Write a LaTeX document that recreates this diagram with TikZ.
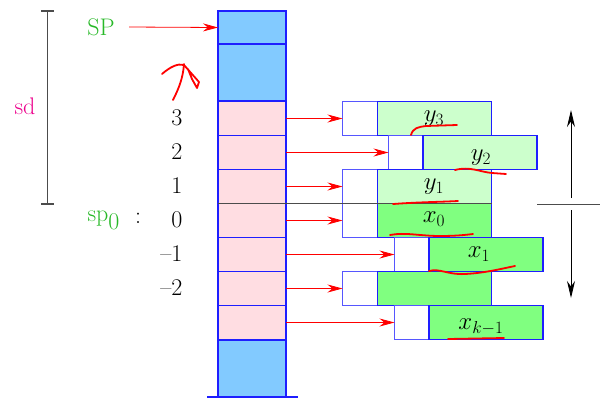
\documentclass[tikz,border=0pt]{standalone}
\usetikzlibrary{arrows.meta}
\definecolor{stackblue}{RGB}{130,202,255}
\definecolor{cellpink}{RGB}{255,221,226}
\definecolor{palegreen}{RGB}{204,255,204}
\definecolor{brightgreen}{RGB}{128,255,128}
\definecolor{labelgreen}{RGB}{40,185,40}
\definecolor{edgeblue}{RGB}{30,30,255}
\begin{document}
\begin{tikzpicture}[x=1pt,y=-1pt,every node/.style={font=\fontsize{24}{28}\selectfont},
  cell/.style={draw=edgeblue,line width=1.4pt,fill=cellpink,minimum width=68pt,minimum height=34pt,inner sep=0pt,outer sep=0pt},
  free/.style={cell,fill=stackblue},
  hole/.style={draw=edgeblue!75,line width=1.4pt,fill=white,minimum width=35pt,minimum height=34pt,inner sep=0pt,outer sep=0pt},
  slot/.style={draw=edgeblue,line width=1.4pt,fill=palegreen,minimum width=114pt,minimum height=34pt,inner sep=0pt,outer sep=0pt},
  fullslot/.style={slot,fill=brightgreen},
  ptr/.style={-{Stealth[length=15pt,width=8pt]},red,line width=0.8pt},
  scrawl/.style={red,line width=1.8pt,line cap=round,line join=round}]
\useasboundingbox (0,0) rectangle (604,400);
% stack column
\node[free,minimum height=33pt] (top) at (252,27.5) {}; \node[free,minimum height=57pt] (spare) at (252,72.5) {};
\node[cell] (c3) at (252,118.5) {}; \node[cell] (c2) at (252,152.5) {}; \node[cell] (c1) at (252,186.5) {};
\node[cell] (c0) at (252,220.5) {}; \node[cell] (cm1) at (252,254.5) {}; \node[cell] (cm2) at (252,288.5) {}; \node[cell] (cm3) at (252,322.5) {};
\node[free,minimum height=57pt] (base) at (252,368.5) {};
\foreach \c in {top,spare,c3,c2,c0,cm1,cm2,cm3} \draw[edgeblue,line width=1.4pt] (\c.south west) -- (\c.south east);
\draw[edgeblue,line width=1.4pt] (207,397) -- (298,397);
% frame slots
\node[hole] (h3) at (360,118.5) {}; \node[slot] (s3) at (434.5,118.5) {};
\node[hole] (h2) at (406,152.5) {}; \node[slot] (s2) at (480,152.5) {};
\node[hole] (h1) at (360,186.5) {}; \node[slot] (s1) at (434.5,186.5) {};
\node[hole] (h0) at (360,220.5) {}; \node[fullslot] (s0) at (434.5,220.5) {};
\node[hole] (hm1) at (412,254.5) {}; \node[fullslot] (sm1) at (486,254.5) {};
\node[hole] (hm2) at (360,288.5) {}; \node[fullslot] (sm2) at (434.5,288.5) {};
\node[hole] (hm3) at (412,322.5) {}; \node[fullslot] (sm3) at (486,322.5) {};
\node (y3) at (434,119) {$y_3$}; \node (y2) at (481,158) {$y_2$}; \node (y1) at (434,187) {$y_1$};
\node (x0) at (434,219) {$x_0$}; \node (x1) at (479,254) {$x_1$}; \node (xk) at (481,327) {$x_{k-1}$};
\draw[ptr] (c3.east) -- (h3.west); \draw[ptr] (c2.east) -- (h2.west); \draw[ptr] (c1.east) -- (h1.west);
\draw[ptr] (c0.east) -- (h0.west); \draw[ptr] (cm1.east) -- (hm1.west); \draw[ptr] (cm2.east) -- (hm2.west); \draw[ptr] (cm3.east) -- (hm3.west);
% offsets
\node[anchor=east] (o3) at (186,118) {3}; \node[anchor=east] (o2) at (186,152) {2}; \node[anchor=east] (o1) at (186,186) {1};
\node[anchor=east] (o0) at (186,220) {0}; \node[anchor=east] (om1) at (186,254) {\textendash1}; \node[anchor=east] (om2) at (186,288) {\textendash2};
\node[text=labelgreen] (sp) at (101,27) {SP}; \draw[ptr] ([xshift=11pt]sp.east) -- (top.west);
\node[text=labelgreen,anchor=west] (spz) at (84,220) {sp\raisebox{-8pt}{0}}; \node (colon) at (138,218) {:};
% sd bracket
\node[text=magenta] (sd) at (25,106) {sd};
\draw[gray!60!black,line width=1.2pt] (41,11) -- (54,11) (47.5,11) -- (47.5,204) (41,204) -- (54,204);
\draw[gray!60!black,line width=1pt] (c1.south west) -- (s1.south east);
\draw[gray!60!black,line width=1pt] (537,204) -- (600,204);
\coordinate (ua) at (571,198); \coordinate (ub) at (571,110); \coordinate (da) at (571,210); \coordinate (db) at (571,298);
\draw[-{Stealth[length=17pt,width=8pt]},line width=1pt] (ua) -- (ub); \draw[-{Stealth[length=17pt,width=8pt]},line width=1pt] (da) -- (db);
% pen marks
\draw[scrawl] (173,100) .. controls (179,88) and (183,78) .. (184,64);
\draw[scrawl] (162,74) .. controls (170,67) and (178,63) .. (184,65) -- (199,82) -- (197,88) -- (192,79) -- (188,69);
\draw[scrawl] (411,135) .. controls (413,128) and (418,127) .. (426,126) -- (457,125);
\draw[scrawl] (455,170) .. controls (470,166) and (480,172) .. (492,173) -- (506,174);
\draw[scrawl] (393,204) .. controls (420,202) and (440,202) .. (458,201);
\draw[scrawl] (390,235) .. controls (405,232) and (420,236) .. (440,236) .. controls (455,236) and (465,235) .. (473,234);
\draw[scrawl] (429,271) .. controls (440,268) and (448,275) .. (465,274) .. controls (485,273) and (500,269) .. (515,266);
\draw[scrawl] (448,339) -- (504,338);
\end{tikzpicture}
\end{document}
